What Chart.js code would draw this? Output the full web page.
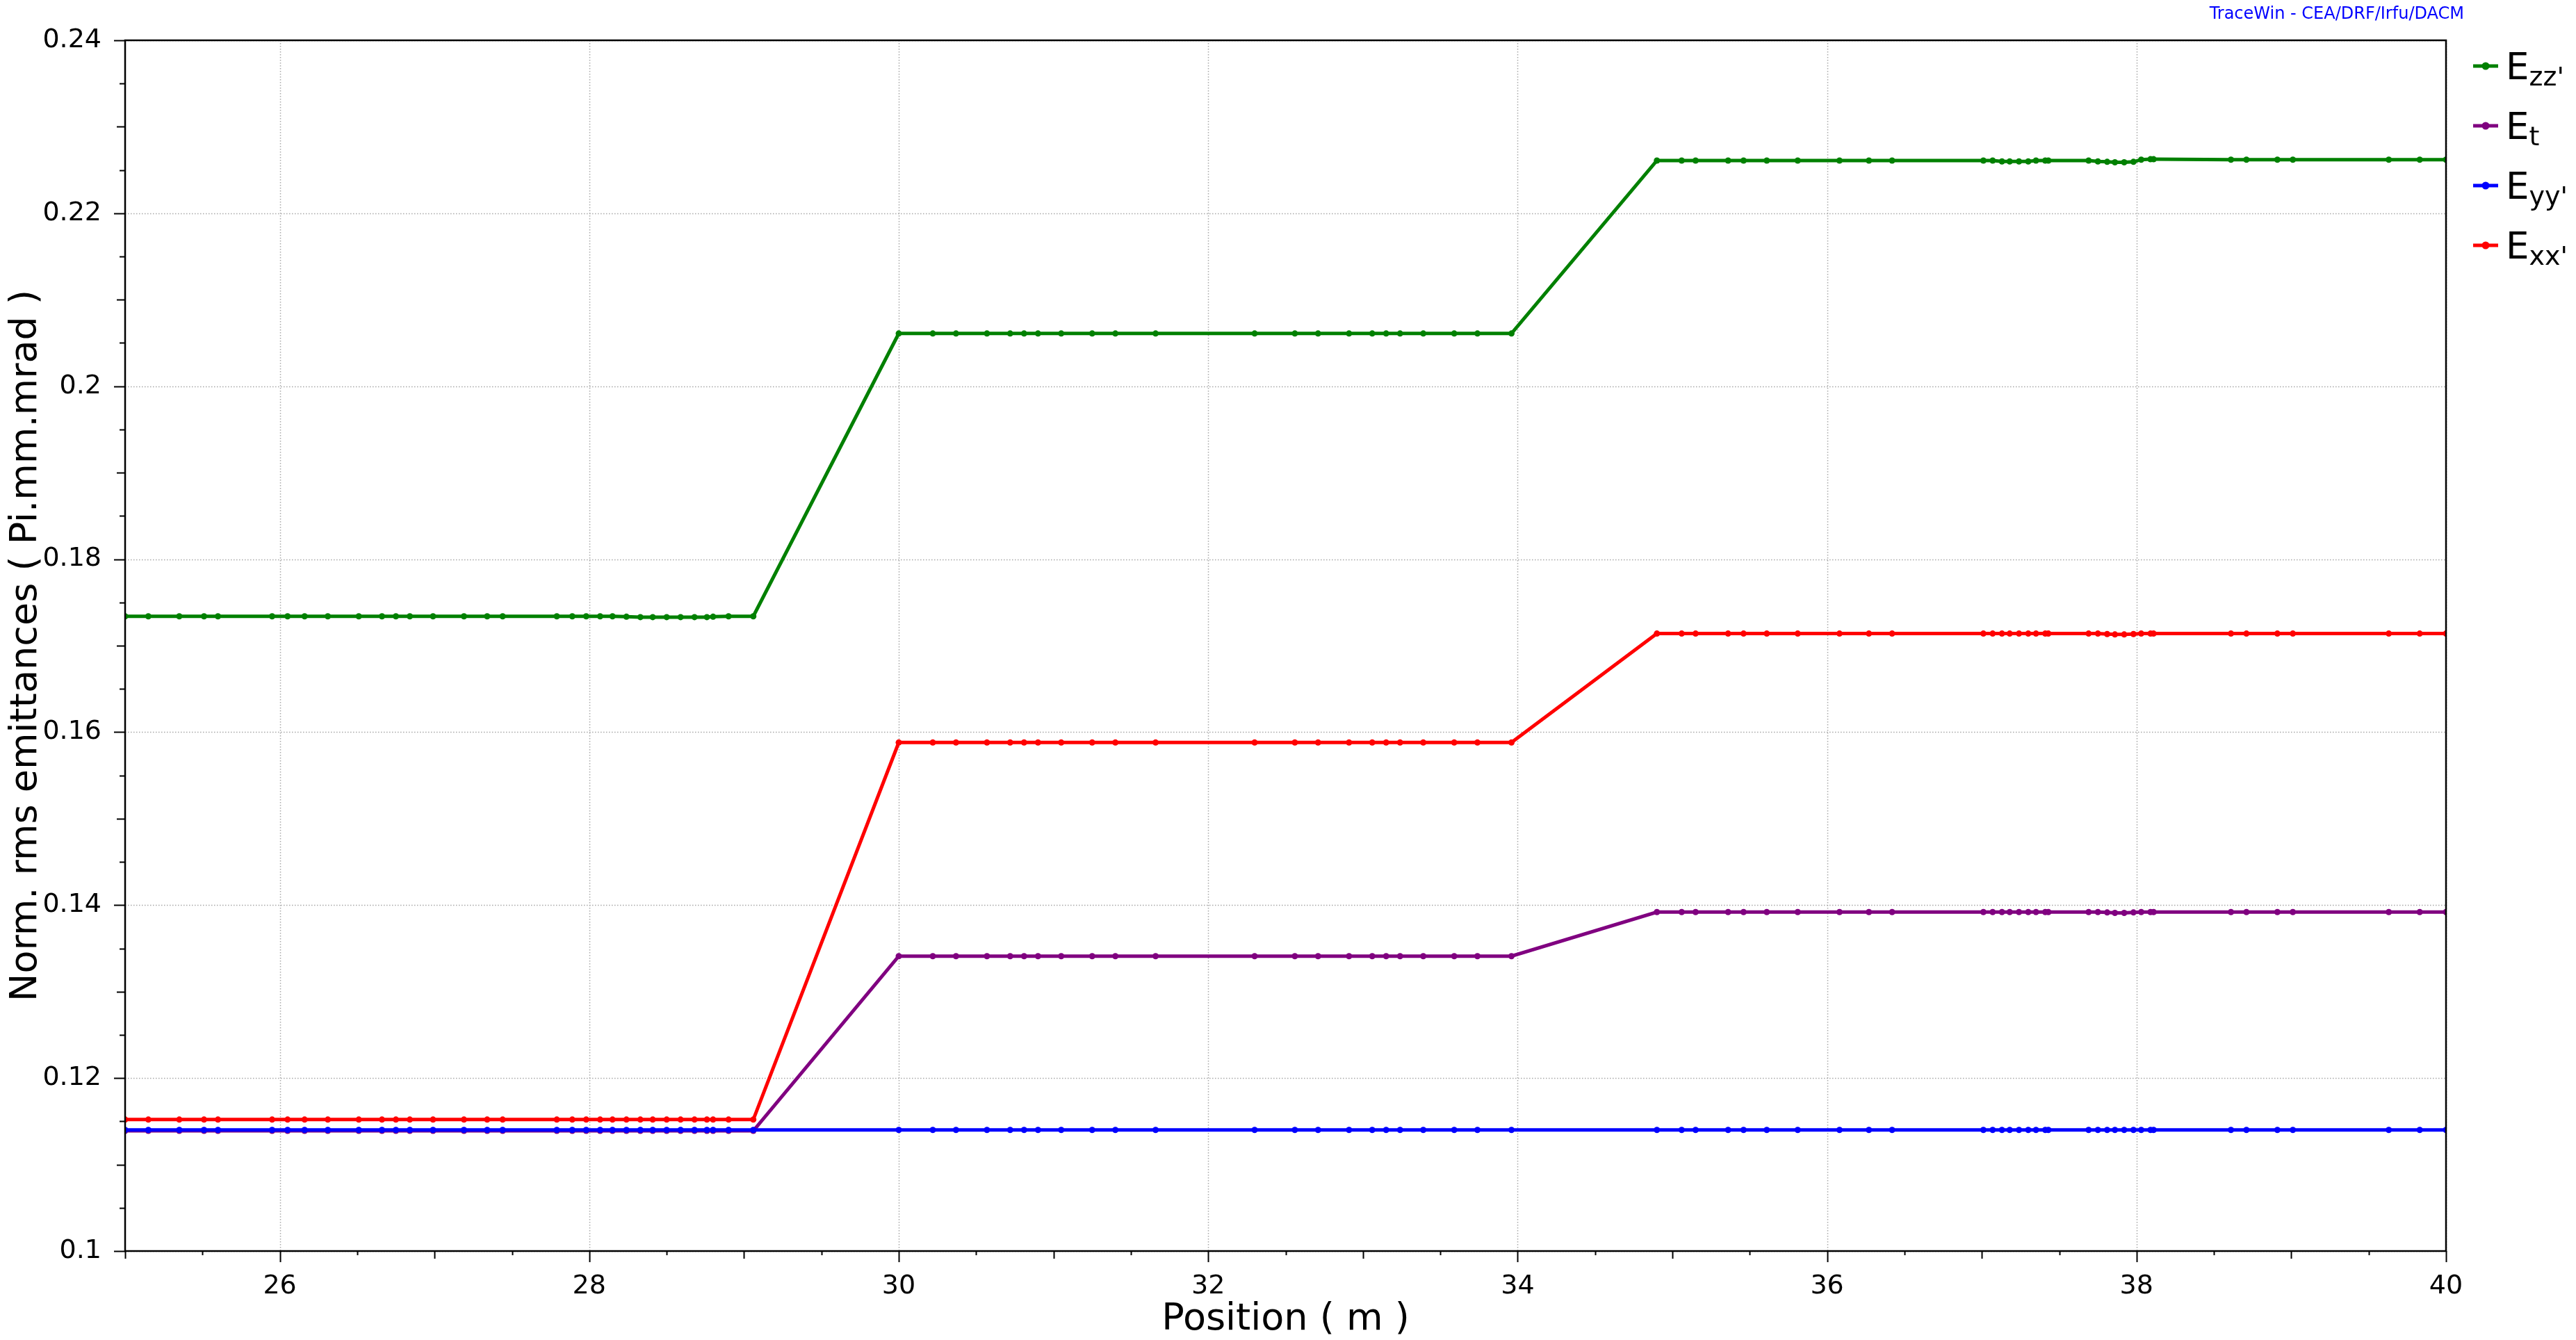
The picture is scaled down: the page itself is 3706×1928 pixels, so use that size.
<!DOCTYPE html>
<html>
<head>
<meta charset="utf-8">
<script src="https://cdn.jsdelivr.net/npm/chart.js@4.4.1/dist/chart.umd.min.js"></script>
<style>
  html, body { margin: 0; padding: 0; background: #fff; }
  #caixa { width: 3706px; height: 1928px; }
</style>
</head>
<body>
<div id="caixa"><canvas id="graficoEmit" width="3706" height="1928"></canvas></div>
<script>
// Posições (m) dos pontos calculados
const posicoes = [
  25.00, 25.15, 25.35, 25.51, 25.60, 25.95, 26.05, 26.16, 26.31, 26.51, 26.66, 26.75, 26.84, 26.99, 27.19, 27.34, 27.44, 27.79, 27.89,
  27.98, 28.07, 28.15, 28.24, 28.33, 28.41, 28.50, 28.59, 28.68, 28.76, 28.80, 28.90, 29.06,
  30.00, 30.22, 30.37, 30.57, 30.72, 30.81, 30.90, 31.05, 31.25, 31.40, 31.66, 32.30, 32.56, 32.71, 32.91, 33.06, 33.15, 33.24, 33.39, 33.59, 33.74, 33.96,
  34.90, 35.06, 35.15, 35.36, 35.46, 35.61, 35.81, 36.08, 36.27, 36.42,
  37.01, 37.07, 37.13, 37.18, 37.24, 37.30, 37.35, 37.41, 37.43, 37.69, 37.75, 37.81, 37.86, 37.92, 37.98, 38.03, 38.09, 38.11,
  38.61, 38.71, 38.91, 39.01, 39.63, 39.83, 40.00
];

// Emitâncias rms normalizadas (Pi.mm.mrad)
const ezz = [
  0.1734, 0.1734, 0.1734, 0.1734, 0.1734, 0.1734, 0.1734, 0.1734, 0.1734, 0.1734, 0.1734, 0.1734, 0.1734, 0.1734, 0.1734, 0.1734, 0.1734, 0.1734, 0.1734,
  0.1734, 0.1734, 0.1734, 0.17335, 0.1733, 0.1733, 0.1733, 0.1733, 0.1733, 0.1733, 0.17335, 0.1734, 0.1734,
  0.2061, 0.2061, 0.2061, 0.2061, 0.2061, 0.2061, 0.2061, 0.2061, 0.2061, 0.2061, 0.2061, 0.2061, 0.2061, 0.2061, 0.2061, 0.2061, 0.2061, 0.2061, 0.2061, 0.2061, 0.2061, 0.2061,
  0.2261, 0.2261, 0.2261, 0.2261, 0.2261, 0.2261, 0.2261, 0.2261, 0.2261, 0.2261,
  0.2261, 0.2261, 0.2260, 0.2260, 0.2260, 0.2260, 0.2261, 0.2261, 0.2261, 0.2261, 0.2260, 0.22595, 0.2259, 0.2259, 0.22595, 0.2262, 0.22625, 0.22625,
  0.2262, 0.2262, 0.2262, 0.2262, 0.2262, 0.2262, 0.2262
];
const et = [
  0.1139, 0.1139, 0.1139, 0.1139, 0.1139, 0.1139, 0.1139, 0.1139, 0.1139, 0.1139, 0.1139, 0.1139, 0.1139, 0.1139, 0.1139, 0.1139, 0.1139, 0.1139, 0.1139,
  0.1139, 0.1139, 0.1139, 0.1139, 0.1139, 0.1139, 0.1139, 0.1139, 0.1139, 0.1139, 0.1139, 0.1139, 0.1139,
  0.1341, 0.1341, 0.1341, 0.1341, 0.1341, 0.1341, 0.1341, 0.1341, 0.1341, 0.1341, 0.1341, 0.1341, 0.1341, 0.1341, 0.1341, 0.1341, 0.1341, 0.1341, 0.1341, 0.1341, 0.1341, 0.1341,
  0.1392, 0.1392, 0.1392, 0.1392, 0.1392, 0.1392, 0.1392, 0.1392, 0.1392, 0.1392,
  0.1392, 0.1392, 0.1392, 0.1392, 0.1392, 0.1392, 0.1392, 0.1392, 0.1392, 0.1392, 0.1392, 0.13915, 0.1391, 0.1391, 0.13915, 0.1392, 0.1392, 0.1392,
  0.1392, 0.1392, 0.1392, 0.1392, 0.1392, 0.1392, 0.1392
];
const eyy = [
  0.1140, 0.1140, 0.1140, 0.1140, 0.1140, 0.1140, 0.1140, 0.1140, 0.1140, 0.1140, 0.1140, 0.1140, 0.1140, 0.1140, 0.1140, 0.1140, 0.1140, 0.1140, 0.1140,
  0.1140, 0.1140, 0.1140, 0.1140, 0.1140, 0.1140, 0.1140, 0.1140, 0.1140, 0.1140, 0.1140, 0.1140, 0.1140,
  0.1140, 0.1140, 0.1140, 0.1140, 0.1140, 0.1140, 0.1140, 0.1140, 0.1140, 0.1140, 0.1140, 0.1140, 0.1140, 0.1140, 0.1140, 0.1140, 0.1140, 0.1140, 0.1140, 0.1140, 0.1140, 0.1140,
  0.1140, 0.1140, 0.1140, 0.1140, 0.1140, 0.1140, 0.1140, 0.1140, 0.1140, 0.1140,
  0.1140, 0.1140, 0.1140, 0.1140, 0.1140, 0.1140, 0.1140, 0.1140, 0.1140, 0.1140, 0.1140, 0.1140, 0.1140, 0.1140, 0.1140, 0.1140, 0.1140, 0.1140,
  0.1140, 0.1140, 0.1140, 0.1140, 0.1140, 0.1140, 0.1140
];
const exx = [
  0.1152, 0.1152, 0.1152, 0.1152, 0.1152, 0.1152, 0.1152, 0.1152, 0.1152, 0.1152, 0.1152, 0.1152, 0.1152, 0.1152, 0.1152, 0.1152, 0.1152, 0.1152, 0.1152,
  0.1152, 0.1152, 0.1152, 0.1152, 0.1152, 0.1152, 0.1152, 0.1152, 0.1152, 0.1152, 0.1152, 0.1152, 0.1152,
  0.1588, 0.1588, 0.1588, 0.1588, 0.1588, 0.1588, 0.1588, 0.1588, 0.1588, 0.1588, 0.1588, 0.1588, 0.1588, 0.1588, 0.1588, 0.1588, 0.1588, 0.1588, 0.1588, 0.1588, 0.1588, 0.1588,
  0.1714, 0.1714, 0.1714, 0.1714, 0.1714, 0.1714, 0.1714, 0.1714, 0.1714, 0.1714,
  0.1714, 0.1714, 0.1714, 0.1714, 0.1714, 0.1714, 0.1714, 0.1714, 0.1714, 0.1714, 0.1714, 0.17135, 0.1713, 0.1713, 0.17135, 0.1714, 0.1714, 0.1714,
  0.1714, 0.1714, 0.1714, 0.1714, 0.1714, 0.1714, 0.1714
];

// Eixos
const xTicks = [26, 28, 30, 32, 34, 36, 38, 40];
const xTickLabels = ['26', '28', '30', '32', '34', '36', '38', '40'];
const yTicks = [0.1, 0.12, 0.14, 0.16, 0.18, 0.2, 0.22, 0.24];
const yTickLabels = ['0.1', '0.12', '0.14', '0.16', '0.18', '0.2', '0.22', '0.24'];

// Legenda (ordem do original)
const legendaMain = ['E', 'E', 'E', 'E'];
const legendaSub = ["zz'", 't', "yy'", "xx'"];
const legendaCores = ['#008000', '#800080', '#0000ff', '#ff0000'];

const FONTE = '"DejaVu Sans", sans-serif';
Chart.defaults.font.family = FONTE;
Chart.defaults.color = '#000';

function serie(nome, valores, cor) {
  return {
    label: nome,
    data: posicoes.map((p, i) => ({ x: p, y: valores[i] })),
    borderColor: cor,
    backgroundColor: cor,
    borderWidth: 5,
    pointRadius: 4.5,
    pointBorderWidth: 0,
    pointBackgroundColor: cor,
    pointHoverRadius: 4.5,
    tension: 0
  };
}

// Grade pontilhada
const grade = {
  id: 'grade',
  beforeDatasetsDraw(chart) {
    const { ctx, chartArea: a, scales: { x, y } } = chart;
    ctx.save();
    ctx.strokeStyle = '#a8a8a8';
    ctx.lineWidth = 1.5;
    ctx.setLineDash([1.5, 2.5]);
    xTicks.forEach(v => {
      const px = Math.round(x.getPixelForValue(v)) + 0.5;
      ctx.beginPath(); ctx.moveTo(px, a.top); ctx.lineTo(px, a.bottom); ctx.stroke();
    });
    yTicks.forEach(v => {
      const py = Math.round(y.getPixelForValue(v)) + 0.5;
      ctx.beginPath(); ctx.moveTo(a.left, py); ctx.lineTo(a.right, py); ctx.stroke();
    });
    ctx.restore();
  }
};

// Moldura, marcas dos eixos, legenda e assinatura
const extras = {
  id: 'extras',
  afterDraw(chart) {
    const { ctx, chartArea: a, scales: { x, y } } = chart;
    ctx.save();
    ctx.strokeStyle = '#000';
    ctx.lineWidth = 2;
    for (let i = 0; i <= 28; i++) {
      const py = Math.round(y.getPixelForValue(0.1 + i * 0.005)) + 0.5;
      const len = i % 4 === 0 ? 16 : (i % 2 === 0 ? 12 : 8);
      ctx.beginPath(); ctx.moveTo(a.left - len, py); ctx.lineTo(a.left, py); ctx.stroke();
    }
    for (let i = 0; i <= 30; i++) {
      const px = Math.round(x.getPixelForValue(25 + i * 0.5)) + 0.5;
      const len = i % 4 === 2 ? 16 : (i % 2 === 0 ? 11 : 6);
      ctx.beginPath(); ctx.moveTo(px, a.bottom); ctx.lineTo(px, a.bottom + len); ctx.stroke();
    }
    ctx.lineWidth = 2.5;
    ctx.strokeRect(a.left, a.top, a.right - a.left, a.bottom - a.top);

    legendaMain.forEach((m, i) => {
      const yy = 95 + i * 86;
      ctx.strokeStyle = legendaCores[i];
      ctx.lineWidth = 5;
      ctx.beginPath(); ctx.moveTo(3558, yy); ctx.lineTo(3594, yy); ctx.stroke();
      ctx.fillStyle = legendaCores[i];
      ctx.beginPath(); ctx.arc(3576, yy, 5.5, 0, Math.PI * 2); ctx.fill();
      ctx.fillStyle = '#000';
      ctx.textAlign = 'left';
      ctx.textBaseline = 'alphabetic';
      ctx.font = '53px ' + FONTE;
      ctx.fillText(m, 3605, yy + 19);
      const w = ctx.measureText(m).width;
      ctx.font = '38px ' + FONTE;
      ctx.fillText(legendaSub[i], 3605 + w, yy + 28);
    });

    ctx.fillStyle = '#0000ff';
    ctx.font = '24px ' + FONTE;
    ctx.textAlign = 'right';
    ctx.fillText('TraceWin - CEA/DRF/Irfu/DACM', 3545, 27);
    ctx.restore();
  }
};

function criarGrafico() {
  const ctx = document.getElementById('graficoEmit').getContext('2d');
  window.grafico = new Chart(ctx, {
    type: 'line',
    data: {
      datasets: [
        serie("Eyy'", eyy, '#0000ff'),
        serie("Ezz'", ezz, '#008000'),
        serie('Et', et, '#800080'),
        serie("Exx'", exx, '#ff0000')
      ]
    },
    options: {
      responsive: false,
      animation: false,
      events: [],
      layout: { padding: { left: 0, top: 58, right: 187, bottom: 0 } },
      plugins: {
        legend: { display: false },
        tooltip: { enabled: false }
      },
      scales: {
        x: {
          type: 'linear',
          min: 25,
          max: 40,
          grid: { display: false },
          border: { display: false },
          afterBuildTicks: s => { s.ticks = xTicks.map(v => ({ value: v })); },
          afterFit: s => { s.height = 128; },
          ticks: {
            font: { size: 38 },
            padding: 20,
            maxRotation: 0,
            autoSkip: false,
            callback: (v, i) => xTickLabels[i]
          },
          title: {
            display: true,
            text: 'Position ( m )',
            font: { size: 54, lineHeight: 1.0 },
            padding: { top: 0, bottom: 2 }
          }
        },
        y: {
          type: 'linear',
          min: 0.1,
          max: 0.24,
          grid: { display: false },
          border: { display: false },
          afterBuildTicks: s => { s.ticks = yTicks.map(v => ({ value: v })); },
          afterFit: s => { s.width = 180; },
          ticks: {
            font: { size: 38 },
            padding: 26,
            autoSkip: false,
            callback: (v, i) => yTickLabels[i]
          },
          title: {
            display: true,
            text: 'Norm. rms emittances ( Pi.mm.mrad )',
            font: { size: 54 },
            padding: { top: 6, bottom: 0 }
          }
        }
      }
    },
    plugins: [grade, extras]
  });
}

window.addEventListener('DOMContentLoaded', criarGrafico);
</script>
</body>
</html>
